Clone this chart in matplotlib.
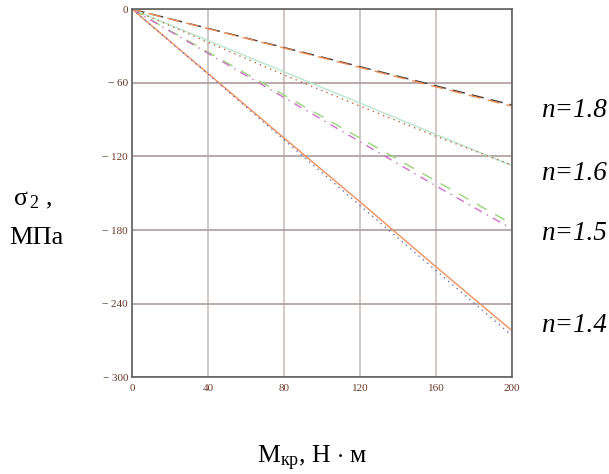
import matplotlib
matplotlib.use('Agg')
import matplotlib.pyplot as plt
import numpy as np

plt.rcParams['font.family'] = ['Liberation Serif', 'DejaVu Serif']
plt.rcParams['mathtext.fontset'] = 'custom'
plt.rcParams['mathtext.rm'] = 'Liberation Serif'
plt.rcParams['mathtext.it'] = 'Liberation Serif:italic'

# torque, N*m
m_kr = [0, 40, 80, 120, 160, 200]

# sigma_2, MPa, two curves per n
s18_a = [0, -15.6, -31.2, -46.8, -62.4, -78]
s18_b = [0, -15.8, -31.6, -47.4, -63.2, -79]
s16_a = [0, -25.5, -51, -76.5, -102, -127.5]
s16_b = [0, -27, -53.5, -79, -103.5, -127]
s15_a = [0, -35, -70, -105, -140, -175]
s15_b = [0, -36, -72, -108, -144, -179]
s14_a = [0, -52.5, -105, -157, -210, -262]
s14_b = [0, -53, -106.5, -160, -213, -266]

n_labels = ['n=1.8', 'n=1.6', 'n=1.5', 'n=1.4']
n_label_y = [-88, -139, -188, -263]

fig = plt.figure(figsize=(6.09, 4.74), dpi=100)
ax = fig.add_axes([0.2172, 0.204, 0.6235, 0.7764])

ax.plot(m_kr, s18_a, color='#3a3a3a', lw=1, linestyle=(0, (9, 5)))
ax.plot(m_kr, s18_b, color='#f08a50', lw=1, linestyle=(2, (9, 5)))
ax.plot(m_kr, s16_a, color='#b8e6cc', lw=1)
ax.plot(m_kr, s16_b, color='#c0683a', lw=1, linestyle=(0, (1, 3)))
ax.plot(m_kr, s15_a, color='#98d478', lw=1, linestyle=(0, (8, 7)))
ax.plot(m_kr, s15_b, color='#d070c8', lw=1, linestyle=(0, (6, 4, 1, 4)))
ax.plot(m_kr, s14_a, color='#f0905a', lw=1)
ax.plot(m_kr, s14_b, color='#7070c0', lw=1, linestyle=(0, (1, 3)))

ax.set_xlim(0, 200)
ax.set_ylim(-300, 0)
ax.set_xticks(m_kr)
ax.set_yticks([0, -60, -120, -180, -240, -300])
ax.set_yticklabels(['0', '\u2212 60', '\u2212 120', '\u2212 180', '\u2212 240', '\u2212 300'])
ax.xaxis.grid(True, color='#c8bebe', lw=1.2)
ax.yaxis.grid(True, color='#ad9c9c', lw=1.2)
ax.set_axisbelow(True)
ax.tick_params(length=0, labelsize=8, labelcolor='#6a3a2a')
ax.tick_params(axis='x', pad=5)
ax.tick_params(axis='y', pad=3)
for sp in ax.spines.values():
    sp.set_color('#606060')
    sp.set_linewidth(1.2)

for lab, yv in zip(n_labels, n_label_y):
    ax.text(1.076, yv, lab, transform=ax.get_yaxis_transform(), fontsize=19.5,
            style='italic', va='baseline', ha='left')

fig.text(33 / 609, 1 - 205 / 474, r'$\mathrm{\sigma}_{\,2}$ ,', fontsize=18.5, ha='center', va='baseline')
fig.text(36 / 609, 1 - 244 / 474, 'МПа', fontsize=19, ha='center', va='baseline')
fig.text(312 / 609, 1 - 463 / 474, r'$\mathrm{M_{кр}}$, Н $\cdot$ м', fontsize=18.5, ha='center', va='baseline')

fig.savefig('out.png', dpi=100)
